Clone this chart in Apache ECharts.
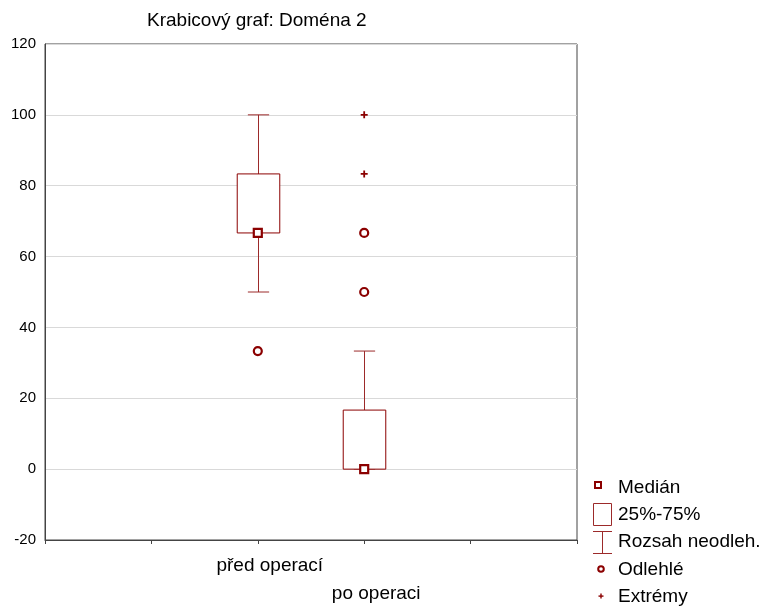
<!DOCTYPE html>
<html>
<head>
<meta charset="utf-8">
<script src="https://cdn.jsdelivr.net/npm/echarts@6/dist/echarts.min.js"></script>
<style>
  html, body { margin: 0; padding: 0; background: #fff; }
  #chart { width: 768px; height: 608px; }
</style>
</head>
<body>
<div id="chart"></div>
<script>
// data
const categories = ["před operací", "po operaci"];
const whiskerLow = [50, 0];
const quart1 = [66.67, 0];
const medians = [66.67, 0];
const quart3 = [83.33, 16.67];
const whiskerHigh = [100, 33.33];
// [category index, value]
const outliers = [[0, 33.33], [1, 50], [1, 66.67]];
const extremes = [[1, 83.33], [1, 100]];
const yTicks = { min: -20, max: 120, step: 20 };

// x axis has 5 equal divisions, boxes sit on the 2nd and 3rd tick
const slots = ["", " ", categories[0], categories[1], "  ", "   "];
const offset = 2;

const red = "#8b0000";
const lineRed = "#9c2a2a";
const font = "Liberation Sans, Arial, sans-serif";

let boxData = categories.map((c, i) => [i + offset, whiskerLow[i], quart1[i], medians[i], quart3[i], whiskerHigh[i]]);

function renderBox(params, api) {
  let x = api.value(0);
  let lo = api.coord([x, api.value(1)]);
  let q1 = api.coord([x, api.value(2)]);
  let q3 = api.coord([x, api.value(4)]);
  let hi = api.coord([x, api.value(5)]);
  let band = api.size([1, 0])[0];
  let half = band * 0.2;
  let cap = band * 0.1;
  let cx = Math.round(lo[0]) + 0.5;
  let st = { stroke: lineRed, lineWidth: 1, fill: null };
  return {
    type: "group",
    children: [
      { type: "line", shape: { x1: cx, y1: q3[1], x2: cx, y2: hi[1] }, style: st },
      { type: "line", shape: { x1: cx - cap, y1: hi[1], x2: cx + cap, y2: hi[1] }, style: st },
      { type: "line", shape: { x1: cx, y1: q1[1], x2: cx, y2: lo[1] }, style: st },
      { type: "line", shape: { x1: cx - cap, y1: lo[1], x2: cx + cap, y2: lo[1] }, style: st },
      {
        type: "rect",
        shape: { x: cx - half, y: q3[1], width: half * 2, height: q1[1] - q3[1] },
        style: { stroke: red, lineWidth: 1, fill: "#fff" }
      }
    ]
  };
}

const plus = "path://M2.6,0H4.4V7H2.6Z M0,2.6H7V4.4H0Z";

let legendItems = [
  { y: 488, text: "Medián" },
  { y: 515, text: "25%-75%" },
  { y: 542, text: "Rozsah neodleh." },
  { y: 570, text: "Odlehlé" },
  { y: 597, text: "Extrémy" }
];

let legendGraphics = [
  { type: "rect", shape: { x: 595, y: 482, width: 6, height: 6 }, style: { fill: "#fff", stroke: red, lineWidth: 2 } },
  { type: "rect", shape: { x: 593.5, y: 503.5, width: 18, height: 22 }, style: { fill: "#fff", stroke: lineRed, lineWidth: 1 } },
  { type: "line", shape: { x1: 593, y1: 531.5, x2: 612, y2: 531.5 }, style: { stroke: lineRed, lineWidth: 1 } },
  { type: "line", shape: { x1: 602.5, y1: 531.5, x2: 602.5, y2: 553.5 }, style: { stroke: lineRed, lineWidth: 1 } },
  { type: "line", shape: { x1: 593, y1: 553.5, x2: 612, y2: 553.5 }, style: { stroke: lineRed, lineWidth: 1 } },
  { type: "circle", shape: { cx: 601, cy: 569, r: 2.8 }, style: { fill: "#fff", stroke: red, lineWidth: 2 } },
  { type: "rect", shape: { x: 598.5, y: 595.4, width: 5, height: 1.4 }, style: { fill: red } },
  { type: "rect", shape: { x: 600.3, y: 593.5, width: 1.4, height: 5 }, style: { fill: red } }
];
legendItems.forEach(item => {
  legendGraphics.push({
    type: "text",
    x: 618,
    y: item.y,
    style: { text: item.text, font: "19px " + font, fill: "#000", textVerticalAlign: "middle" }
  });
});

let chart = echarts.init(document.getElementById("chart"));
let option = {
  animation: false,
  backgroundColor: "#fff",
  textStyle: { fontFamily: font },
  title: {
    text: "Krabicový graf: Doména 2",
    left: 142,
    top: 6,
    textStyle: { fontSize: 19, fontWeight: "normal", color: "#000", fontFamily: font }
  },
  grid: {
    left: 45,
    right: 191,
    top: 44,
    bottom: 65,
    show: true,
    borderColor: "#444",
    borderWidth: 1
  },
  xAxis: {
    type: "category",
    data: slots,
    boundaryGap: false,
    axisLine: { onZero: false, lineStyle: { color: "#444" } },
    axisTick: { show: true, interval: 0, length: 4, lineStyle: { color: "#444" } },
    axisLabel: {
      interval: 0,
      color: "#000",
      fontSize: 19,
      margin: 12,
      lineHeight: 28,
      padding: [0, 0, 0, 24],
      formatter: (v, i) => (i === offset + 1 ? "\n" + v : v.trim())
    },
    splitLine: { show: false }
  },
  yAxis: {
    type: "value",
    min: yTicks.min,
    max: yTicks.max,
    interval: yTicks.step,
    axisLine: { show: true, lineStyle: { color: "#444" } },
    axisTick: { show: false },
    axisLabel: { color: "#000", fontSize: 15, margin: 9 },
    splitLine: { lineStyle: { color: "#d9d9d9" } }
  },
  graphic: legendGraphics,
  series: [
    {
      name: "25%-75%",
      type: "custom",
      renderItem: renderBox,
      encode: { x: 0, y: [1, 2, 3, 4, 5] },
      data: boxData,
      z: 2
    },
    {
      name: "Medián",
      type: "scatter",
      symbol: "rect",
      symbolSize: 8,
      itemStyle: { color: "#fff", borderColor: red, borderWidth: 2.2, opacity: 1 },
      data: medians.map((m, i) => [i + offset, m]),
      z: 5
    },
    {
      name: "Odlehlé",
      type: "scatter",
      symbol: "circle",
      symbolSize: 8,
      itemStyle: { color: "#fff", borderColor: red, borderWidth: 2.2, opacity: 1 },
      data: outliers.map(p => [p[0] + offset, p[1]]),
      z: 5
    },
    {
      name: "Extrémy",
      type: "scatter",
      symbol: plus,
      symbolSize: 7,
      itemStyle: { color: red, opacity: 1 },
      data: extremes.map(p => [p[0] + offset, p[1]]),
      z: 5
    }
  ]
};
chart.setOption(option);
</script>
</body>
</html>
